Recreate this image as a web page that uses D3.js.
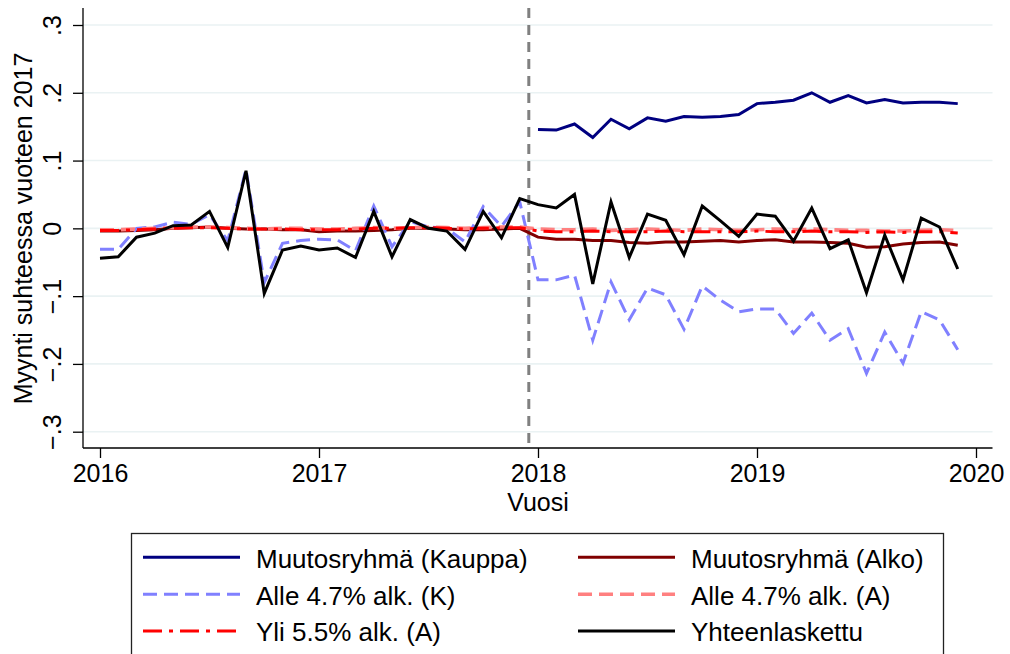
<!DOCTYPE html>
<html>
<head>
<meta charset="utf-8">
<script src="https://cdn.jsdelivr.net/npm/d3@7"></script>
<style>
  html, body { margin: 0; padding: 0; background: #fff; }
  svg { display: block; font-family: "Liberation Sans", Arial, sans-serif; }
</style>
</head>
<body>
<svg id="chart" width="1010" height="654"></svg>
<script>
// ---------------- DATA ----------------
const years = [2016, 2017, 2018, 2019];
const xTickValues = [2016, 2017, 2018, 2019, 2020];
const yTickValues = [-0.3, -0.2, -0.1, 0, 0.1, 0.2, 0.3];
const reformLine = 2017.958;

// monthly values, Jan 2016 .. Dec 2019
const kauppa = [ // starts Jan 2018
  0.146, 0.145, 0.154, 0.134, 0.161, 0.147, 0.163, 0.158, 0.165, 0.164, 0.165, 0.168,
  0.184, 0.186, 0.189, 0.200, 0.186, 0.196, 0.185, 0.190, 0.185, 0.186, 0.186, 0.184
];
const alko = [
  -0.004, -0.004, -0.003, -0.002, 0.000, 0.001, 0.002, 0.000, -0.001, -0.001, -0.002, -0.002,
  -0.005, -0.004, -0.004, -0.003, -0.002, 0.000, 0.000, -0.001, -0.002, -0.002, -0.001, 0.000,
  -0.013, -0.016, -0.016, -0.018, -0.018, -0.021, -0.022, -0.020, -0.020, -0.019, -0.018, -0.020,
  -0.018, -0.017, -0.020, -0.020, -0.021, -0.022, -0.028, -0.027, -0.023, -0.021, -0.020, -0.025
];
const alleK = [
  -0.031, -0.031, 0.000, 0.002, 0.009, 0.006, 0.020, -0.018, 0.087, -0.080, -0.022, -0.018,
  -0.016, -0.017, -0.033, 0.033, -0.027, 0.010, 0.002, 0.000, -0.020, 0.032, 0.003, 0.039,
  -0.076, -0.076, -0.069, -0.165, -0.079, -0.135, -0.088, -0.098, -0.149, -0.085, -0.106, -0.123,
  -0.119, -0.119, -0.155, -0.125, -0.165, -0.148, -0.214, -0.153, -0.199, -0.123, -0.135, -0.179
];
const alleA = [
  -0.002, -0.002, -0.001, 0.000, 0.001, 0.002, 0.002, 0.001, 0.000, -0.001, 0.000, 0.000,
  -0.001, -0.001, 0.000, 0.001, 0.000, 0.001, 0.002, 0.001, 0.000, 0.001, 0.002, 0.002,
  -0.001, -0.002, -0.002, -0.001, -0.003, -0.002, -0.001, -0.002, -0.003, -0.001, -0.002, -0.003,
  -0.002, -0.001, -0.002, -0.001, -0.002, -0.003, -0.003, -0.004, -0.004, -0.003, -0.002, -0.003
];
const yliA = [
  -0.003, -0.003, -0.002, -0.001, 0.000, 0.001, 0.001, 0.000, -0.001, -0.001, -0.001, -0.002,
  -0.002, -0.002, -0.001, 0.000, 0.000, 0.001, 0.001, 0.000, -0.001, 0.000, 0.001, 0.001,
  -0.004, -0.005, -0.005, -0.004, -0.005, -0.005, -0.005, -0.004, -0.005, -0.005, -0.005, -0.005,
  -0.004, -0.005, -0.005, -0.004, -0.005, -0.005, -0.006, -0.005, -0.006, -0.005, -0.005, -0.007
];
const yhteen = [
  -0.044, -0.042, -0.013, -0.007, 0.004, 0.005, 0.025, -0.028, 0.085, -0.096, -0.032, -0.026,
  -0.032, -0.029, -0.043, 0.025, -0.042, 0.013, 0.000, -0.004, -0.031, 0.025, -0.014, 0.044,
  0.035, 0.030, 0.050, -0.082, 0.039, -0.043, 0.021, 0.012, -0.039, 0.033, 0.011, -0.012,
  0.021, 0.018, -0.019, 0.030, -0.030, -0.017, -0.095, -0.010, -0.076, 0.015, 0.002, -0.060
];
const seriesNames = [
  "Muutosryhmä (Kauppa)", "Muutosryhmä (Alko)",
  "Alle 4.7% alk. (K)", "Alle 4.7% alk. (A)",
  "Yli 5.5% alk. (A)", "Yhteenlaskettu"
];
const yTitle = "Myynti suhteessa vuoteen 2017";
const xTitle = "Vuosi";

// ---------------- LAYOUT ----------------
const svg = d3.select("#chart");
const plot = { left: 83, right: 992.5, top: 8, bottom: 448 };
const x = d3.scaleLinear().domain([2016, 2020]).range([100, 976]);
const y = d3.scaleLinear().domain([-0.3, 0.3]).range([431.7, 25]);

const months = [];
years.forEach(yr => { for (let m = 0; m < 12; m++) months.push(yr + m / 12); });

const styles = [
  { data: kauppa, start: 24, color: "#000080", dash: null, w: 3 },
  { data: alko, start: 0, color: "#800000", dash: null, w: 3 },
  { data: alleK, start: 0, color: "#8080ff", dash: "14,7", w: 3 },
  { data: alleA, start: 0, color: "#ff8080", dash: "14,7", w: 3.6 },
  { data: yliA, start: 0, color: "#ff0000", dash: "19,7,4,7", w: 3 },
  { data: yhteen, start: 0, color: "#000000", dash: null, w: 3 }
];

// gridlines
svg.append("g").selectAll("line").data(yTickValues).join("line")
  .attr("x1", plot.left).attr("x2", plot.right)
  .attr("y1", d => y(d)).attr("y2", d => y(d))
  .attr("stroke", "#eaf2f3").attr("stroke-width", 1.6);

// y axis
const yAxis = d3.axisLeft(y).tickValues(yTickValues).tickSize(10)
  .tickFormat(d => { if (Math.abs(d) < 1e-9) return "0"; return d3.format(".1f")(d).replace("0.", "."); });
const gy = svg.append("g").attr("transform", `translate(${plot.left},0)`).call(yAxis);
gy.select(".domain").remove();
gy.selectAll(".tick line").attr("stroke", "#000").attr("stroke-width", 1.3);
gy.selectAll(".tick text")
  .attr("font-size", 25).attr("fill", "#000")
  .attr("x", null).attr("dy", null)
  .attr("text-anchor", "middle")
  .attr("transform", "translate(-22,0) rotate(-90)");
svg.append("line").attr("x1", plot.left).attr("x2", plot.left)
  .attr("y1", plot.top).attr("y2", plot.bottom).attr("stroke", "#000").attr("stroke-width", 1.3);

// x axis
const xAxis = d3.axisBottom(x).tickValues(xTickValues).tickSize(10).tickFormat(d3.format("d"));
const gx = svg.append("g").attr("transform", `translate(0,${plot.bottom})`).call(xAxis);
gx.select(".domain").remove();
gx.selectAll(".tick line").attr("stroke", "#000").attr("stroke-width", 1.3);
gx.selectAll(".tick text").attr("font-size", 25).attr("fill", "#000").attr("y", 34).attr("dy", null);
svg.append("line").attr("x1", plot.left).attr("x2", plot.right)
  .attr("y1", plot.bottom).attr("y2", plot.bottom).attr("stroke", "#000").attr("stroke-width", 1.3);

// titles
svg.append("text").attr("transform", `translate(31.5,228.5) rotate(-90)`)
  .attr("text-anchor", "middle").attr("font-size", 25).text(yTitle);
svg.append("text").attr("x", 538).attr("y", 510.5)
  .attr("text-anchor", "middle").attr("font-size", 25).text(xTitle);

// reform line
svg.append("line").attr("x1", x(reformLine)).attr("x2", x(reformLine))
  .attr("y1", plot.top).attr("y2", plot.bottom)
  .attr("stroke", "#808080").attr("stroke-width", 3).attr("stroke-dasharray", "10,7");

// series lines
const line = d3.line().x(d => x(d[0])).y(d => y(d[1]));
styles.forEach(s => {
  const pts = s.data.map((v, i) => [months[i + s.start], v]);
  svg.append("path").datum(pts).attr("d", line)
    .attr("fill", "none").attr("stroke", s.color).attr("stroke-width", s.w)
    .attr("stroke-linejoin", "miter").attr("stroke-dasharray", s.dash);
});

// legend
const leg = svg.append("g");
leg.append("rect").attr("x", 131.5).attr("y", 533.5).attr("width", 812).attr("height", 160)
  .attr("fill", "#fff").attr("stroke", "#222").attr("stroke-width", 1.3);
const colLine = [143, 578], colText = [256, 691];
const rowLine = [557.3, 594.3, 631], rowText = [568, 605, 641];
styles.forEach((s, i) => {
  const c = i % 2, r = Math.floor(i / 2);
  leg.append("line").attr("x1", colLine[c]).attr("x2", colLine[c] + 97)
    .attr("y1", rowLine[r]).attr("y2", rowLine[r])
    .attr("stroke", s.color).attr("stroke-width", s.w).attr("stroke-dasharray", s.dash);
  leg.append("text").attr("x", colText[c]).attr("y", rowText[r])
    .attr("font-size", 26).text(seriesNames[i]);
});
</script>
</body>
</html>
